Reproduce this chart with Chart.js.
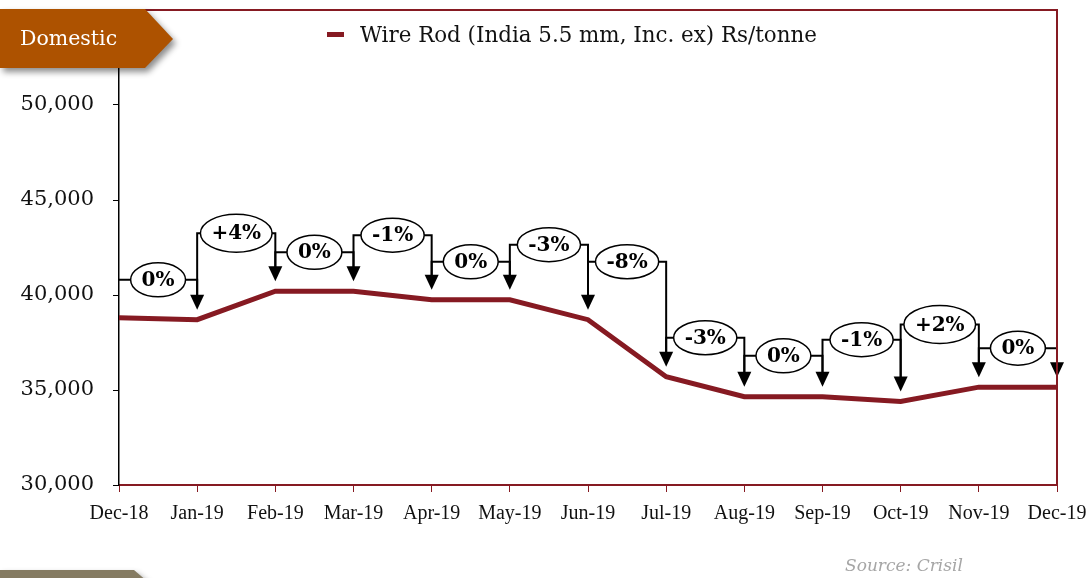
<!DOCTYPE html>
<html>
<head>
<meta charset="utf-8">
<script src="https://cdn.jsdelivr.net/npm/chart.js@4.4.1/dist/chart.umd.min.js"></script>
<style>
  html, body { margin: 0; padding: 0; background: #fff; }
  #wrap { position: relative; width: 1089px; height: 578px; }
</style>
</head>
<body>
<div id="wrap"><canvas id="graficaWireRod" width="1089" height="578"></canvas></div>
<script>
// data
const months = ['Dec-18', 'Jan-19', 'Feb-19', 'Mar-19', 'Apr-19', 'May-19', 'Jun-19',
  'Jul-19', 'Aug-19', 'Sep-19', 'Oct-19', 'Nov-19', 'Dec-19'];
const wireRod = [38800, 38700, 40200, 40200, 39750, 39750, 38700,
  35700, 34650, 34650, 34400, 35150, 35150];
// month-on-month change labels and the level (Rs/tonne) of each bracket
const pctLabels = ['0%', '+4%', '0%', '-1%', '0%', '-3%', '-8%', '-3%', '0%', '-1%', '+2%', '0%'];
const bracketLevel = [40800, 43250, 42250, 43150, 41750, 42650, 41750,
  37750, 36800, 37650, 38450, 37200];
const yTicks = [30000, 35000, 40000, 45000, 50000];

const rojo = '#861a22';
const serif = '"DejaVu Serif", "Liberation Serif", serif';

document.addEventListener('DOMContentLoaded', function () {
  const flechas = {
    id: 'flechas',
    afterDatasetsDraw(chart) {
      const ctx = chart.ctx;
      const x = chart.scales.x, y = chart.scales.y;
      const tips = wireRod.map(v => y.getPixelForValue(v) - 10);
      ctx.save();
      ctx.strokeStyle = '#000';
      ctx.fillStyle = '#000';
      ctx.lineWidth = 2;
      for (let i = 1; i < months.length; i++) {
        const x0 = x.getPixelForValue(i - 1), x1 = x.getPixelForValue(i);
        const h = y.getPixelForValue(bracketLevel[i - 1]);
        // left stub, top bar, right drop
        ctx.beginPath();
        ctx.moveTo(x0, i === 1 ? h : tips[i - 1] - 14);
        ctx.lineTo(x0, h);
        ctx.lineTo(x1, h);
        ctx.lineTo(x1, tips[i] - 14);
        ctx.stroke();
        // arrow head
        ctx.beginPath();
        ctx.moveTo(x1 - 7, tips[i] - 15);
        ctx.lineTo(x1 + 7, tips[i] - 15);
        ctx.lineTo(x1, tips[i]);
        ctx.closePath();
        ctx.fill();
        // label bubble
        ctx.font = 'bold 20px ' + serif;
        const w = ctx.measureText(pctLabels[i - 1]).width + 22;
        const mx = (x0 + x1) / 2;
        const eh = pctLabels[i - 1].startsWith('+') ? 19 : 17;
        ctx.beginPath();
        ctx.ellipse(mx, h, w / 2, eh, 0, 0, Math.PI * 2);
        ctx.fillStyle = '#fff';
        ctx.fill();
        ctx.lineWidth = 1.5;
        ctx.stroke();
        ctx.lineWidth = 2;
        ctx.fillStyle = '#000';
        ctx.textAlign = 'center';
        ctx.textBaseline = 'middle';
        ctx.fillText(pctLabels[i - 1], mx, h + 1);
      }
      ctx.restore();
    },
    afterDraw(chart) {
      const ctx = chart.ctx;
      const a = chart.chartArea;
      ctx.save();
      // frame
      ctx.strokeStyle = rojo;
      ctx.lineWidth = 2;
      ctx.beginPath();
      ctx.moveTo(a.left, a.top);
      ctx.lineTo(a.right, a.top);
      ctx.lineTo(a.right, a.bottom);
      ctx.stroke();
      // legend
      ctx.fillStyle = rojo;
      ctx.fillRect(327, 32, 17, 5);
      ctx.fillStyle = '#111';
      ctx.font = '21.4px ' + serif;
      ctx.textAlign = 'left';
      ctx.textBaseline = 'middle';
      ctx.fillText(chart.data.datasets[0].label, 360, 36);
      // Domestic badge
      ctx.shadowColor = 'rgba(0,0,0,0.45)';
      ctx.shadowBlur = 6;
      ctx.shadowOffsetX = 3;
      ctx.shadowOffsetY = 4;
      ctx.fillStyle = '#ad5200';
      ctx.beginPath();
      ctx.moveTo(0, 9); ctx.lineTo(145, 9); ctx.lineTo(173, 39);
      ctx.lineTo(145, 68); ctx.lineTo(0, 68); ctx.closePath();
      ctx.fill();
      // bottom tab
      ctx.fillStyle = '#857b62';
      ctx.beginPath();
      ctx.moveTo(0, 570); ctx.lineTo(134, 570); ctx.lineTo(148, 582);
      ctx.lineTo(0, 582); ctx.closePath();
      ctx.fill();
      ctx.shadowColor = 'transparent';
      ctx.fillStyle = '#fff';
      ctx.font = '20.5px ' + serif;
      ctx.fillText('Domestic', 20, 40);
      // source
      ctx.fillStyle = '#a6a6a6';
      ctx.font = 'italic 17px ' + serif;
      ctx.fillText('Source: Crisil', 845, 567);
      ctx.restore();
    }
  };

  const ctx = document.getElementById('graficaWireRod').getContext('2d');
  new Chart(ctx, {
    type: 'line',
    data: {
      labels: months,
      datasets: [{
        label: 'Wire Rod (India 5.5 mm, Inc. ex) Rs/tonne',
        data: wireRod,
        borderColor: rojo,
        backgroundColor: rojo,
        borderWidth: 5,
        pointRadius: 0,
        tension: 0
      }]
    },
    options: {
      responsive: false,
      animation: false,
      layout: { padding: { top: 10, right: 32, left: 0, bottom: 0 } },
      plugins: { legend: { display: false }, tooltip: { enabled: false } },
      scales: {
        x: {
          offset: false,
          afterFit(s) { s.height = 93; s.paddingLeft = 0; s.paddingRight = 0; },
          grid: { drawOnChartArea: false, drawTicks: true, tickLength: 7, color: rojo },
          border: { color: rojo, width: 2 },
          ticks: {
            autoSkip: false, maxRotation: 0, padding: 10,
            color: '#111', font: { family: '"Liberation Serif", serif', size: 20 }
          }
        },
        y: {
          min: 30000,
          max: 55000,
          afterFit(s) { s.width = 119; s.paddingTop = 0; s.paddingBottom = 0; },
          afterBuildTicks(s) { s.ticks = yTicks.map(v => ({ value: v })); },
          grid: { drawOnChartArea: false, drawTicks: true, tickLength: 6, color: '#000' },
          border: { color: '#000', width: 1.5 },
          ticks: {
            padding: 19,
            color: '#111',
            font: { family: serif, size: 21 },
            callback: v => v.toLocaleString('en-US')
          }
        }
      }
    },
    plugins: [flechas]
  });
});
</script>
</body>
</html>
